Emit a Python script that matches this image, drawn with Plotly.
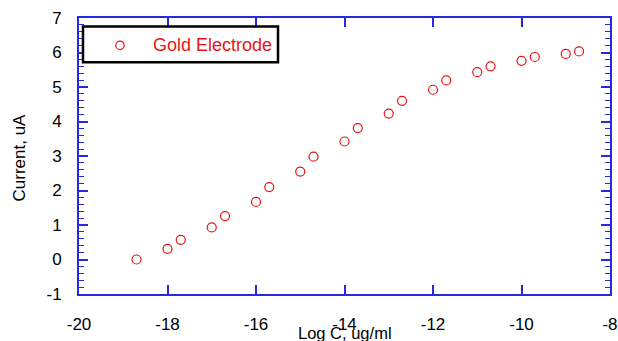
import plotly.graph_objects as go

log_c = [-18.7, -18.0, -17.7, -17.0, -16.7, -16.0, -15.7, -15.0, -14.7, -14.0, -13.7,
         -13.0, -12.7, -12.0, -11.7, -11.0, -10.7, -10.0, -9.7, -9.0, -8.7]
current = [0.00, 0.31, 0.57, 0.93, 1.26, 1.67, 2.10, 2.55, 2.98, 3.42, 3.81,
           4.23, 4.60, 4.92, 5.19, 5.43, 5.60, 5.76, 5.87, 5.96, 6.03]
x_tick_vals = [-20, -18, -16, -14, -12, -10, -8]
x_tick_text = ["-20", "-18", "-16", "-14", "-12", "-10", "-8"]
y_tick_vals = [-1, 0, 1, 2, 3, 4, 5, 6, 7]
y_tick_text = ["-1", "0", "1", "2", "3", "4", "5", "6", "7"]
series_name = "Gold Electrode"
x_title = "Log C, ug/ml"
y_title = "Current, uA"

BLUE = "rgb(40,40,225)"
RED = "rgb(230,20,20)"
FONT = "Liberation Sans"

W, H = 618, 341
L, R, T, B = 79, 8, 17.5, 46.5
PW, PH = W - L - R, H - T - B

def px(xp):
    return (xp - L) / PW

def py(yp):
    return (H - B - yp) / PH

fig = go.Figure()
fig.add_trace(go.Scatter(
    x=log_c, y=current, mode="markers", name=series_name,
    marker=dict(symbol="circle-open", size=9, color=RED, line=dict(width=1.2, color=RED)),
    showlegend=False,
))

fig.update_layout(
    width=W, height=H,
    margin=dict(l=L, r=R, t=T, b=B, autoexpand=False),
    paper_bgcolor="white", plot_bgcolor="white",
    font=dict(family=FONT, size=17, color="black"),
    xaxis=dict(
        range=[-20, -8], tickvals=x_tick_vals, ticktext=x_tick_text,
        showgrid=False, zeroline=False, automargin=False,
        showline=True, linecolor=BLUE, linewidth=2, mirror="ticks",
        ticks="inside", ticklen=9, tickwidth=1.5, tickcolor=BLUE,
        ticklabelstandoff=14, tickfont=dict(size=17),
    ),
    yaxis=dict(
        range=[-1, 7], tickvals=y_tick_vals, ticktext=y_tick_text,
        showgrid=False, zeroline=False, automargin=False,
        showline=True, linecolor=BLUE, linewidth=2, mirror="ticks",
        ticks="inside", ticklen=9, tickwidth=1.5, tickcolor=BLUE,
        minor=dict(tick0=-1, dtick=0.2, ticks="inside", ticklen=5, tickwidth=1.2,
                   tickcolor=BLUE, showgrid=False),
        ticklabelstandoff=12, tickfont=dict(size=17),
    ),
    showlegend=False,
)

# axis titles
fig.add_annotation(text=x_title, xref="paper", yref="paper", x=0.5, y=py(333.5),
                   xanchor="center", yanchor="middle", showarrow=False,
                   font=dict(size=16.5, family=FONT, color="black"))
fig.add_annotation(text=y_title, xref="paper", yref="paper", x=px(19), y=py(157.5),
                   xanchor="center", yanchor="middle", showarrow=False, textangle=-90,
                   font=dict(size=17, family=FONT, color="black"))

# legend box
fig.add_shape(type="rect", xref="paper", yref="paper",
              x0=px(83), x1=px(278), y0=py(62), y1=py(26),
              line=dict(color="black", width=2.5), fillcolor="white", layer="above")
r = 4.2
fig.add_shape(type="circle", xref="paper", yref="paper",
              x0=px(120 - r), x1=px(120 + r), y0=py(45 + r), y1=py(45 - r),
              line=dict(color=RED, width=1.2), layer="above")
fig.add_annotation(text=series_name, xref="paper", yref="paper", x=px(151), y=py(45),
                   xanchor="left", yanchor="middle", showarrow=False,
                   font=dict(size=18, family=FONT, color=RED))

fig.write_html("out.html", config={"displayModeBar": False},
               post_script="document.body.style.margin='0';document.body.style.overflow='hidden';")
